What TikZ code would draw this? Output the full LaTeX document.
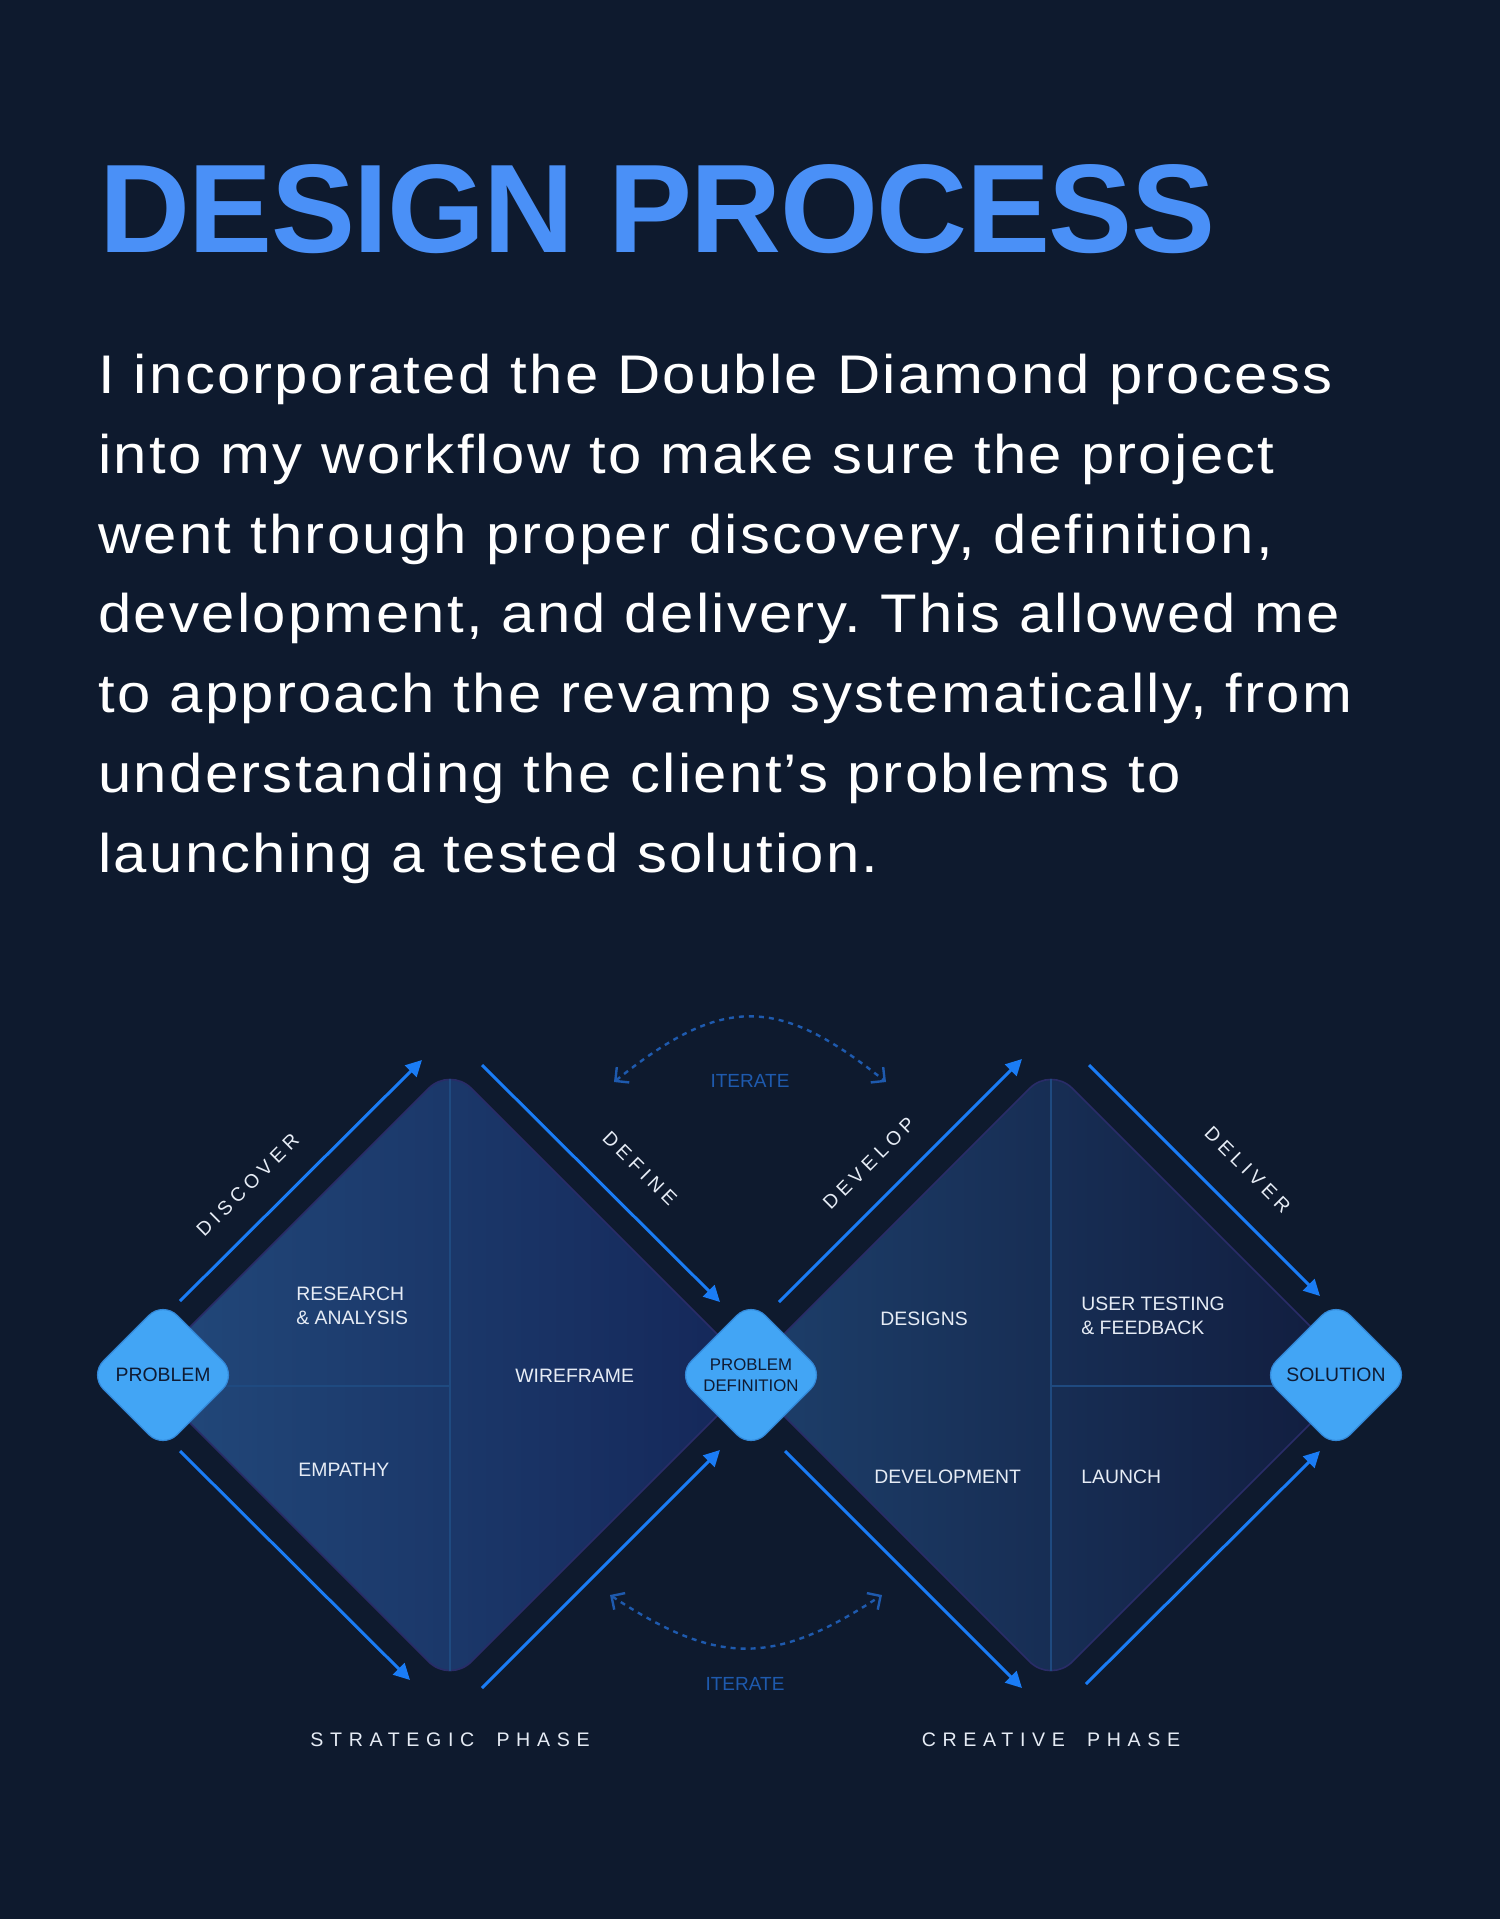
\documentclass[tikz,border=0pt]{standalone}
\usepackage{fontspec}
\setmainfont{Liberation Sans}
\newfontfamily\bodyfont{Liberation Sans}[FakeStretch=1.1,LetterSpace=4.2]
\newfontfamily\titlefont{Liberation Sans}[LetterSpace=-1.2]
\newfontfamily\spacedfont{Liberation Sans}[LetterSpace=25]
\newfontfamily\phasefont{Liberation Sans}[LetterSpace=34]
\frenchspacing
\usepackage{tikz}
\usetikzlibrary{
	calc,
	arrows.meta,
	shapes.geometric,
	positioning
	}
\definecolor{bgnavy}{HTML}{0E1A2E}
\definecolor{titleblue}{HTML}{4A90F7}
\definecolor{arrowblue}{HTML}{1A7CF5}
\definecolor{iterblue}{HTML}{1E5AAE}
\definecolor{chipblue}{HTML}{42A5F5}
\definecolor{chipedge}{HTML}{3388D8}
\definecolor{chiptext}{HTML}{0F1B33}
\definecolor{quadline}{HTML}{1F4A80}
\definecolor{diaedge}{HTML}{2A2C68}
\definecolor{diaoneL}{HTML}{22497B}
\definecolor{diaoneR}{HTML}{142658}
\definecolor{diatwoL}{HTML}{1D3F6B}
\definecolor{diatwoR}{HTML}{111C3D}
\definecolor{labelwhite}{HTML}{E6ECF5}
\tikzstyle{chip}=[diamond,aspect=1,fill=chipblue,draw=chipedge,line width=0.6pt,rounded corners=10pt,minimum size=74pt,inner sep=0pt,text=chiptext,font=\fontsize{9.7}{11}\selectfont,align=center]
\tikzstyle{bigdia}=[draw=diaedge,line width=0.8pt,rounded corners=15pt]
\tikzstyle{quad}=[draw=quadline,line width=0.6pt]
\tikzstyle{flow}=[draw=arrowblue,line width=1.5pt,-{Triangle[length=8pt,width=8pt]}]
\tikzstyle{iter}=[draw=iterblue,line width=1.2pt,dash pattern=on 2.5pt off 2.5pt,{Straight Barb[angle=90:7pt]}-{Straight Barb[angle=90:7pt]}]
\tikzstyle{qlabel}=[text=labelwhite,inner sep=0pt,align=left,font=\fontsize{9.7}{12}\selectfont]
\tikzstyle{steplabel}=[text=labelwhite,inner sep=0pt,sloped,font=\spacedfont\fontsize{9.7}{11}\selectfont]
\tikzstyle{phaselabel}=[text=labelwhite,inner sep=0pt,font=\phasefont\fontsize{9.8}{11}\selectfont]
\tikzstyle{iterlabel}=[text=iterblue,inner sep=0pt,font=\fontsize{9.5}{11}\selectfont]

\begin{document}
\begin{tikzpicture}[x=0.5pt,y=-0.5pt]
\path[use as bounding box,fill=bgnavy] (0,0) rectangle (1500,1919);

\node[anchor=base west,inner sep=0pt,text=titleblue,font=\titlefont\bfseries\fontsize{63}{63}\selectfont] (title) at (99,252) {DESIGN PROCESS};
\node[anchor=north west,inner sep=0pt,text=white,align=left,font=\bodyfont\fontsize{27.2}{39.85}\selectfont] (intro) at (98,354)
  {I incorporated the Double Diamond process\\
   into my workflow to make sure the project\\
   went through proper discovery, definition,\\
   development, and delivery. This allowed me\\
   to approach the revamp systematically, from\\
   understanding the client’s problems to\\
   launching a tested solution.};

\coordinate (d1t) at (450,1067);
\coordinate (d1r) at (758,1375);
\coordinate (d1b) at (450,1683);
\coordinate (d1l) at (142,1375);
\coordinate (d2t) at (1051,1067);
\coordinate (d2r) at (1359,1375);
\coordinate (d2b) at (1051,1683);
\coordinate (d2l) at (743,1375);

\draw[bigdia,left color=diaoneL,right color=diaoneR] (d1t) -- (d1r) -- (d1b) -- (d1l) -- cycle;
\draw[bigdia,left color=diatwoL,right color=diatwoR] (d2t) -- (d2r) -- (d2b) -- (d2l) -- cycle;
\draw[quad] ($(d1t)+(0,12)$) -- ($(d1b)+(0,-12)$);
\draw[quad] (160,1386) -- (450,1386);
\draw[quad] ($(d2t)+(0,12)$) -- ($(d2b)+(0,-12)$);
\draw[quad] (1051,1386) -- (1340,1386);

\node[chip] (prob) at (163,1375) {PROBLEM};
\node[chip,font=\fontsize{8.4}{10.8}\selectfont] (pdef) at (751,1375) {PROBLEM\\DEFINITION};
\node[chip] (sol) at (1336,1375) {SOLUTION};

\node[qlabel,anchor=north west] (research) at (296,1287) {RESEARCH\\\& ANALYSIS};
\node[qlabel,anchor=base west] (empathy) at (298,1476) {EMPATHY};
\node[qlabel,anchor=base west] (wireframe) at (515,1382) {WIREFRAME};
\node[qlabel,anchor=base west] (designs) at (880,1325) {DESIGNS};
\node[qlabel,anchor=north west] (testing) at (1081,1297) {USER TESTING\\\& FEEDBACK};
\node[qlabel,anchor=base west] (development) at (874,1483) {DEVELOPMENT};
\node[qlabel,anchor=base west] (launch) at (1081,1483) {LAUNCH};

\coordinate (disc-s) at (180,1301);
\coordinate (disc-e) at (422,1060);
\coordinate (def-s) at (482,1065);
\coordinate (def-e) at (720,1302);
\coordinate (d1bl-s) at (180,1451);
\coordinate (d1bl-e) at (410,1680);
\coordinate (d1br-s) at (482,1688);
\coordinate (d1br-e) at (720,1450);
\coordinate (dev-s) at (779,1302);
\coordinate (dev-e) at (1022,1059);
\coordinate (del-s) at (1089,1065);
\coordinate (del-e) at (1320,1296);
\coordinate (d2bl-s) at (785,1451);
\coordinate (d2bl-e) at (1022,1688);
\coordinate (d2br-s) at (1086,1684);
\coordinate (d2br-e) at (1320,1451);

\draw[flow] (disc-s) -- node[steplabel,pos=0.38,above=13pt] (lbl-disc) {DISCOVER} (disc-e);
\draw[flow] (def-s) -- node[steplabel,pos=0.55,above=15pt] (lbl-def) {DEFINE} (def-e);
\draw[flow] (d1bl-s) -- (d1bl-e);
\draw[flow] (d1br-s) -- (d1br-e);
\draw[flow] (dev-s) -- node[steplabel,pos=0.47,above=13pt] (lbl-dev) {DEVELOP} (dev-e);
\draw[flow] (del-s) -- node[steplabel,pos=0.57,above=15pt] (lbl-del) {DELIVER} (del-e);
\draw[flow] (d2bl-s) -- (d2bl-e);
\draw[flow] (d2br-s) -- (d2br-e);

\coordinate (it1a) at (614,1082);
\coordinate (it1b) at (886,1082);
\coordinate (it2a) at (610,1595);
\coordinate (it2b) at (882,1595);
\draw[iter] (it1a) .. controls (722,995) and (778,995) .. (it1b);
\draw[iter] (it2a) .. controls (718,1666) and (774,1666) .. (it2b);
\node[iterlabel,anchor=base] (iter-top) at (750,1087) {ITERATE};
\node[iterlabel,anchor=base] (iter-bot) at (745,1690) {ITERATE};

\node[phaselabel,below=24.5pt of d1b] (strategic) {STRATEGIC\ \hspace{5pt}PHASE};
\node[phaselabel,below=24.5pt of d2b] (creative) {CREATIVE\ \hspace{5pt}PHASE};
\end{tikzpicture}
\end{document}
